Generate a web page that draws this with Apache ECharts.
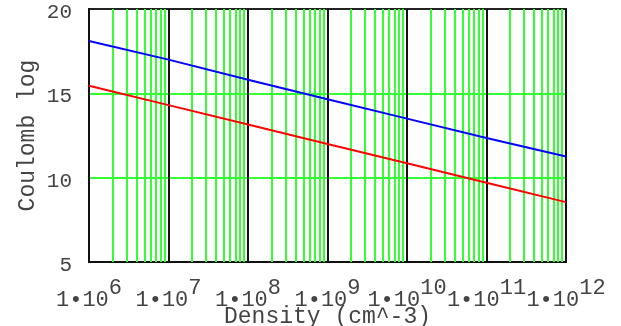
<!DOCTYPE html>
<html>
<head>
<meta charset="utf-8">
<script src="https://cdn.jsdelivr.net/npm/echarts@6/dist/echarts.min.js"></script>
<style>
  html, body { margin: 0; padding: 0; background: #fff; }
  #chart { width: 621px; height: 326px; }
</style>
</head>
<body>
<div id="chart"></div>
<script>
// density (cm^-3) at each decade
const density = [1e6, 1e7, 1e8, 1e9, 1e10, 1e11, 1e12];
// coulomb log
const blueLog = [18.1, 17.0, 15.8, 14.65, 13.5, 12.35, 11.25];
const redLog = [15.45, 14.3, 13.15, 12.0, 10.85, 9.7, 8.55];
// minor gridlines: 2..9 inside each decade
const decades = [1e6, 1e7, 1e8, 1e9, 1e10, 1e11];
const minorSteps = [2, 3, 4, 5, 6, 7, 8, 9];

const FONT = "Liberation Mono";
const GREEN = "#33ff33";

const chart = echarts.init(document.getElementById("chart"));

const minorLines = [];
decades.forEach((d) => {
  minorSteps.forEach((m) => minorLines.push([d * m]));
});

const option = {
  animation: false,
  grid: {
    left: 89,
    right: 55,
    top: 9,
    bottom: 64,
    outerBoundsMode: "none",
    containLabel: false,
    show: true,
    borderColor: "#222",
    borderWidth: 2,
  },
  xAxis: {
    type: "log",
    logBase: 10,
    min: 1e6,
    max: 1e12,
    name: "Density (cm^-3)",
    nameLocation: "middle",
    nameGap: 43,
    nameMoveOverlap: false,
    nameTextStyle: { fontFamily: FONT, fontSize: 23, color: "#444" },
    axisLine: { lineStyle: { color: "#111", width: 2 } },
    axisTick: { show: false },
    splitLine: { show: true, lineStyle: { color: "#111", width: 2 } },
    axisLabel: {
      margin: 15,
      showMinLabel: true,
      showMaxLabel: true,
      hideOverlap: false,
      formatter: (v) => "{b|1•10}{s|" + Math.round(Math.log10(v)) + "}",
      rich: {
        b: { fontFamily: FONT, fontSize: 22, color: "#444", verticalAlign: "bottom" },
        s: {
          fontFamily: FONT,
          fontSize: 22,
          color: "#444",
          verticalAlign: "bottom",
          padding: [0, 0, 12, 0],
        },
      },
    },
  },
  yAxis: {
    type: "value",
    min: 5,
    max: 20,
    interval: 5,
    name: "Coulomb log",
    nameLocation: "middle",
    nameGap: 50,
    nameRotate: 90,
    nameMoveOverlap: false,
    nameTextStyle: { fontFamily: FONT, fontSize: 23, color: "#444" },
    axisLine: { show: true, lineStyle: { color: "#111", width: 2 } },
    axisTick: { show: false },
    axisLabel: {
      margin: 17,
      fontFamily: FONT,
      fontSize: 21,
      color: "#444",
      verticalAlign: "top",
      lineHeight: 7,
    },
    splitLine: {
      show: true,
      showMinLine: false,
      showMaxLine: false,
      lineStyle: { color: GREEN, width: 2 },
    },
  },
  series: [
    {
      type: "custom",
      z: 1,
      silent: true,
      data: minorLines,
      encode: { x: 0 },
      renderItem: (params, api) => {
        const top = api.coord([api.value(0), 20]);
        const bottom = api.coord([api.value(0), 5]);
        const x = Math.round(top[0]);
        return {
          type: "line",
          shape: { x1: x, y1: top[1], x2: x, y2: bottom[1] },
          style: { stroke: GREEN, lineWidth: 2 },
        };
      },
    },
    {
      name: "blue",
      type: "line",
      z: 3,
      data: density.map((d, i) => [d, blueLog[i]]),
      showSymbol: false,
      lineStyle: { color: "#0000ff", width: 2 },
    },
    {
      name: "red",
      type: "line",
      z: 3,
      data: density.map((d, i) => [d, redLog[i]]),
      showSymbol: false,
      lineStyle: { color: "#ff0000", width: 2 },
    },
  ],
};

chart.setOption(option);
</script>
</body>
</html>
